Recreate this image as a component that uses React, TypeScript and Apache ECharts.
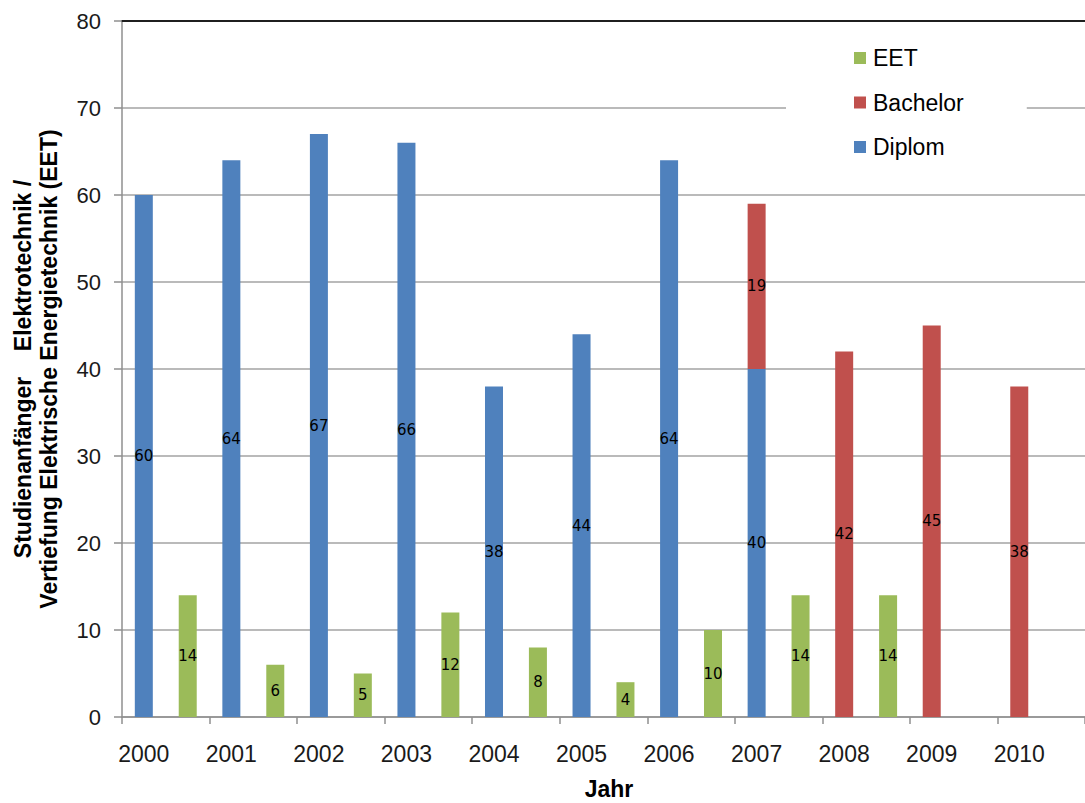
import React, { useEffect, useRef } from "react";
import * as echarts from "echarts";

// Studienanfänger per year
const years = ["2000", "2001", "2002", "2003", "2004", "2005", "2006", "2007", "2008", "2009", "2010"];
const diplom = [60, 64, 67, 66, 38, 44, 64, 40, null, null, null];
const bachelor = [null, null, null, null, null, null, null, 19, 42, 45, 38];
const eet = [14, 6, 5, 12, 8, 4, 10, 14, 14, null, null];

const yMin = 0;
const yMax = 80;
const yStep = 10;

const legendOrder = ["EET", "Bachelor", "Diplom"];

const FONT = "'Liberation Sans', Arial, Helvetica, sans-serif";
const LABEL_FONT = "'DejaVu Sans', Verdana, sans-serif";
const COLORS = { diplom: "#4F81BD", bachelor: "#C0504D", eet: "#9BBB59" };
const GRID_GRAY = "#a3a3a3";
const AXIS_GRAY = "#8f8f8f";

export default function App() {
  const ref = useRef<HTMLDivElement>(null);

  useEffect(() => {
    if (!ref.current) return;
    const chart = echarts.init(ref.current, undefined, { renderer: "svg" });

    const barLabel = {
      show: true,
      position: "inside",
      color: "#000",
      fontSize: 15,
      fontFamily: LABEL_FONT,
    };

    const barCommon = {
      type: "bar",
      barWidth: 18,
      barGap: "144%",
      label: barLabel,
    };

    chart.setOption({
      animation: false,
      backgroundColor: "#ffffff",
      textStyle: { fontFamily: FONT },
      grid: { left: 122, top: 21, width: 971, height: 696, containLabel: false },
      legend: {
        data: legendOrder,
        orient: "vertical",
        left: 786,
        top: 22,
        padding: [24.5, 63, 31, 68],
        backgroundColor: "#ffffff",
        itemWidth: 12,
        itemHeight: 12,
        itemGap: 21.5,
        icon: "rect",
        textStyle: { fontSize: 23, color: "#000", fontFamily: FONT, padding: [0, 0, 0, 2] },
      },
      xAxis: [
        {
          type: "category",
          data: years,
          axisLine: { show: true, lineStyle: { color: AXIS_GRAY, width: 1.5 } },
          axisTick: { show: true, length: 7, lineStyle: { color: AXIS_GRAY, width: 1.5 } },
          axisLabel: {
            fontSize: 23,
            margin: 25,
            color: "#1a1a1a",
            fontFamily: FONT,
            padding: [0, 44, 0, 0],
          },
          splitLine: { show: false },
        },
        {
          type: "category",
          data: years,
          position: "top",
          axisLine: { show: true, lineStyle: { color: "#1f1f1f", width: 2 } },
          axisTick: { show: false },
          axisLabel: { show: false },
          splitLine: { show: false },
        },
      ],
      yAxis: {
        type: "value",
        min: yMin,
        max: yMax,
        interval: yStep,
        axisLine: { show: true, lineStyle: { color: AXIS_GRAY, width: 1.5 } },
        axisTick: { show: true, length: 8, lineStyle: { color: AXIS_GRAY, width: 1.5 } },
        axisLabel: { fontSize: 22, margin: 21, color: "#1a1a1a", fontFamily: FONT },
        splitLine: { show: true, lineStyle: { color: GRID_GRAY, width: 1.5 } },
      },
      series: [
        { ...barCommon, name: "Diplom", stack: "studium", data: diplom, itemStyle: { color: COLORS.diplom } },
        { ...barCommon, name: "Bachelor", stack: "studium", data: bachelor, itemStyle: { color: COLORS.bachelor } },
        { ...barCommon, name: "EET", data: eet, itemStyle: { color: COLORS.eet } },
      ],
      graphic: [
        {
          type: "text",
          x: 36,
          y: 369,
          rotation: Math.PI / 2,
          style: {
            text: "Studienanfänger\u00A0\u00A0\u00A0\u00A0Elektrotechnik /\nVertiefung Elektrische Energietechnik (EET)",
            fontFamily: FONT,
            fontSize: 23,
            fontWeight: "bold",
            lineHeight: 26,
            fill: "#000",
            align: "center",
            verticalAlign: "middle",
          },
        },
        {
          type: "text",
          x: 609,
          y: 789,
          style: {
            text: "Jahr",
            fontFamily: FONT,
            fontSize: 23,
            fontWeight: "bold",
            fill: "#000",
            align: "center",
            verticalAlign: "middle",
          },
        },
      ],
    });

    return () => chart.dispose();
  }, []);

  return (
    <div
      ref={ref}
      style={{ position: "absolute", left: 0, top: 0, width: 1085, height: 803, overflow: "hidden" }}
    />
  );
}
